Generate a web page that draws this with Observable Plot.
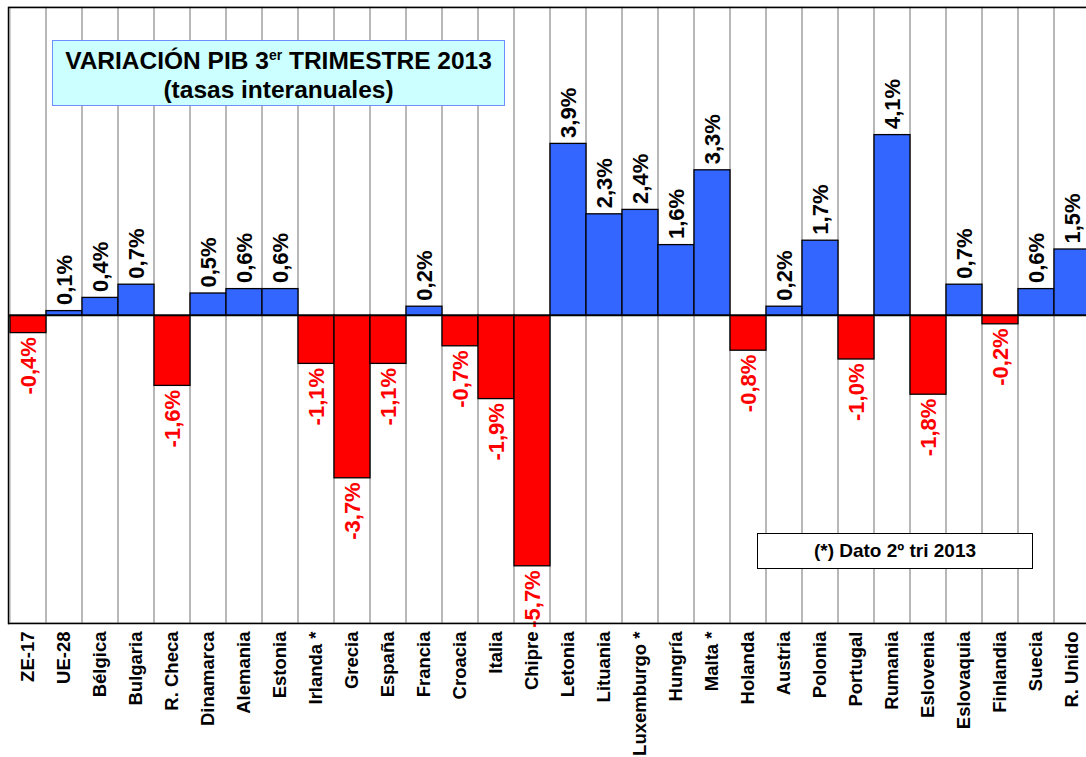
<!DOCTYPE html>
<html>
<head>
<meta charset="utf-8">
<script src="https://cdn.jsdelivr.net/npm/d3@7"></script>
<script src="https://cdn.jsdelivr.net/npm/@observablehq/plot@0.6"></script>
<style>
  html, body { margin: 0; padding: 0; background: #fff; overflow: hidden; }
  #wrap { position: relative; width: 1086px; height: 757px; font-family: "Liberation Sans", Arial, sans-serif; }
  #title {
    position: absolute; left: 52px; top: 40px; width: 451px;
    background: #ccffff; border: 1px solid #6f8fff;
    text-align: center; font-weight: bold; font-size: 24.5px; line-height: 29px;
    padding-top: 5px; height: 59px; box-sizing: content-box;
  }
  #title sup { font-size: 14px; line-height: 0; vertical-align: super; }
  #note {
    position: absolute; left: 757px; top: 533px; width: 274px; height: 34px;
    background: #fff; border: 1px solid #000;
    text-align: center; font-weight: bold; font-size: 19px; line-height: 34px;
  }
</style>
</head>
<body>
<div id="wrap"></div>
<script>
const categories = ["ZE-17","UE-28","Bélgica","Bulgaria","R. Checa","Dinamarca","Alemania","Estonia","Irlanda *","Grecia","España","Francia","Croacia","Italia","Chipre","Letonia","Lituania","Luxemburgo *","Hungría","Malta *","Holanda","Austria","Polonia","Portugal","Rumania","Eslovenia","Eslovaquia","Finlandia","Suecia","R. Unido"];
const values = [-0.4,0.1,0.4,0.7,-1.6,0.5,0.6,0.6,-1.1,-3.7,-1.1,0.2,-0.7,-1.9,-5.7,3.9,2.3,2.4,1.6,3.3,-0.8,0.2,1.7,-1.0,4.1,-1.8,0.7,-0.2,0.6,1.5];
const titleLine1 = ["VARIACIÓN PIB 3", "er", " TRIMESTRE 2013"];
const titleLine2 = "(tasas interanuales)";
const noteText = "(*) Dato 2º tri 2013";

const data = categories.map((c, i) => ({cat: c, val: values[i]}));
const fmt = v => v.toFixed(1).replace(".", ",") + "%";
const pos = data.filter(d => d.val >= 0);
const neg = data.filter(d => d.val < 0);

const chart = Plot.plot({
  width: 1086,
  height: 757,
  marginLeft: 8,
  marginRight: 0,
  marginTop: 7,
  marginBottom: 134,
  style: {fontFamily: "'Liberation Sans', Arial, sans-serif", background: "#fff"},
  x: {domain: categories, range: [8, 1092], padding: 0, axis: null},
  y: {domain: [-7, 7], range: [623, 7], axis: null},
  marks: [
    Plot.barY(categories, {x: d => d, y1: -7, y2: 7, fill: "none", stroke: "#a0a0a0", strokeWidth: 1, inset: 0}),
    Plot.barY(data, {x: "cat", y: "val", fill: d => d.val >= 0 ? "#3366ff" : "#ff0000", stroke: "#000", strokeWidth: 1.3, inset: 0}),
    Plot.ruleY([0], {stroke: "#000", strokeWidth: 1.3}),
    Plot.text(pos, {x: "cat", y: "val", text: d => fmt(d.val), rotate: -90, textAnchor: "start", lineAnchor: "middle", dy: -6, fill: "#000", fontWeight: "bold", fontSize: 22}),
    Plot.text(neg, {x: "cat", y: "val", text: d => fmt(d.val), rotate: -90, textAnchor: "end", lineAnchor: "middle", dy: 4, fill: "#ff0000", fontWeight: "bold", fontSize: 22}),
    Plot.text(categories, {x: d => d, y: -7, text: d => d, rotate: -90, textAnchor: "end", lineAnchor: "middle", dy: 8, fill: "#000", fontWeight: "bold", fontSize: 18.5}),
    Plot.ruleY([-7, 7], {stroke: "#000", strokeWidth: 1.5}),
    Plot.frame({anchor: "left", stroke: "#000", strokeWidth: 1.5})
  ]
});

const wrap = document.getElementById("wrap");
wrap.appendChild(chart);

const title = document.createElement("div");
title.id = "title";
title.innerHTML = titleLine1[0] + "<sup>" + titleLine1[1] + "</sup>" + titleLine1[2] + "<br>" + titleLine2;
wrap.appendChild(title);

const note = document.createElement("div");
note.id = "note";
note.textContent = noteText;
wrap.appendChild(note);
</script>
</body>
</html>
